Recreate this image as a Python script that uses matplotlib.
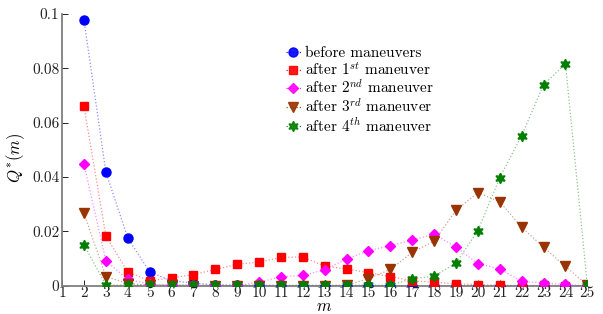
import matplotlib
matplotlib.use("Agg")
import matplotlib.pyplot as plt
import numpy as np

m = list(range(2, 26))
before = [0.0978, 0.0418, 0.0176, 0.0051, 0.0018, 0.0010, 0.0003, 0.0001, 0.0001, 0.0, 0.0, 0.0,
          0.0, 0.0, 0.0, 0.0, 0.0, 0.0, 0.0, 0.0, 0.0, 0.0, 0.0, 0.0]
after1 = [0.0660, 0.0183, 0.0051, 0.0018, 0.0029, 0.0041, 0.0060, 0.0079, 0.0087, 0.0104, 0.0106, 0.0072,
          0.0062, 0.0048, 0.0034, 0.0018, 0.0013, 0.0007, 0.0004, 0.0002, 0.0001, 0.0001, 0.0, 0.0]
after2 = [0.0447, 0.0092, 0.0023, 0.0006, 0.0003, 0.0002, 0.0001, 0.0001, 0.0013, 0.0033, 0.0038, 0.0059,
          0.0099, 0.0129, 0.0148, 0.0168, 0.0190, 0.0142, 0.0081, 0.0062, 0.0016, 0.0010, 0.0005, 0.0]
after3 = [0.0267, 0.0034, 0.0008, 0.0002, 0.0001, 0.0, 0.0, 0.0, 0.0, 0.0, 0.0, 0.0,
          0.0002, 0.0026, 0.0060, 0.0123, 0.0164, 0.0278, 0.0343, 0.0309, 0.0215, 0.0142, 0.0071, 0.0003]
after4 = [0.0150, 0.0003, 0.0002, 0.0002, 0.0002, 0.0002, 0.0002, 0.0002, 0.0002, 0.0002, 0.0002, 0.0002,
          0.0002, 0.0002, 0.0002, 0.0026, 0.0035, 0.0084, 0.0203, 0.0398, 0.0553, 0.0740, 0.0817, 0.0004]

labels = ["before maneuvers", r"after 1$^{st}$ maneuver", r"after 2$^{nd}$ maneuver",
          r"after 3$^{rd}$ maneuver", r"after 4$^{th}$ maneuver"]
xticks = list(range(1, 26))
yticks = [0, 0.02, 0.04, 0.06, 0.08, 0.1]
yticklabels = ["0", "0.02", "0.04", "0.06", "0.08", "0.1"]

plt.rcParams['font.family'] = ['cmr10', 'DejaVu Serif']
plt.rcParams['mathtext.fontset'] = 'cm'
plt.rcParams['axes.formatter.use_mathtext'] = True

fig = plt.figure(figsize=(6.03, 3.14), dpi=100)
ax = fig.add_axes([0.103, 0.09, 0.871, 0.865])

series = [before, after1, after2, after3, after4]
colors = ['#0000ff', '#ff0000', '#ff00ff', '#993300', '#007f00']
markers = ['o', 's', 'D', 'v', (6, 1, 0)]
msizes = [6.5, 5.5, 5.5, 6.5, 7.5]

for ys, c, mk, ms, lab in zip(series, colors, markers, msizes, labels):
    ax.plot(m, ys, linestyle=':', color=c, alpha=0.45, linewidth=0.9, zorder=2)
    ax.plot(m, ys, linestyle='none', marker=mk, color=c, markersize=ms,
            markeredgecolor=c, zorder=3)
    ax.plot([], [], linestyle=':', color=c, marker=mk, markersize=ms, linewidth=0.9,
            alpha=0.9, label=lab)

ax.set_xlim(1, 25)
ax.set_ylim(0, 0.1)
ax.set_xticks(xticks)
ax.set_xticklabels([str(t) for t in xticks])
ax.set_yticks(yticks)
ax.set_yticklabels(yticklabels)
ax.tick_params(direction='in', labelsize=11, length=4, width=0.7, colors='#222222')
ax.tick_params(axis='x', pad=0.5)
ax.tick_params(axis='y', pad=2)
for s in ['top', 'right']:
    ax.spines[s].set_visible(False)
for s in ['left', 'bottom']:
    ax.spines[s].set_linewidth(1.3)
    ax.spines[s].set_color('#7f7f7f')

ax.set_xlabel(r"$m$", fontsize=12)
ax.xaxis.label.set_va('bottom')
ax.xaxis.set_label_coords(0.538, 0.0, transform=fig.transFigure)
ax.set_ylabel(r"$Q^{*}(m)$", fontsize=12)
ax.yaxis.set_label_coords(-0.067, 0.47)

leg = ax.legend(loc='upper left', bbox_to_anchor=(0.405, 0.92), frameon=False, fontsize=11,
                handlelength=1.0, handletextpad=0.3, labelspacing=0.05, borderpad=0.2)

fig.savefig("out.png", dpi=100)
